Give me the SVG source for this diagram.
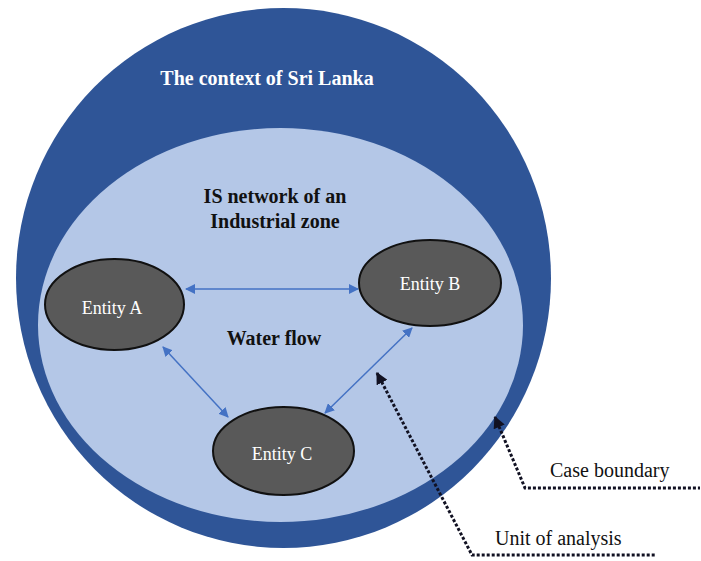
<svg xmlns="http://www.w3.org/2000/svg" width="701" height="561" viewBox="0 0 701 561">
<style>
.bold{font-family:"Liberation Serif","Times New Roman",serif;font-weight:bold;font-size:20px;text-anchor:middle}
.ent{fill:#595959;stroke:#111111;stroke-width:2}
.etxt{font-family:"Liberation Serif","Times New Roman",serif;font-size:18px;fill:#ffffff;text-anchor:middle}
.lbl{font-family:"Liberation Serif","Times New Roman",serif;font-size:20px;fill:#111111}
.flow{stroke:#4472C4;stroke-width:1.5;fill:none;marker-start:url(#bh);marker-end:url(#bh)}
.dot{stroke:#111122;stroke-width:3;fill:none;stroke-dasharray:3 2;marker-start:url(#kh)}
</style>
<defs>
<marker id="bh" viewBox="0 0 10 10" refX="9" refY="5" markerWidth="10" markerHeight="10" markerUnits="userSpaceOnUse" orient="auto-start-reverse">
<path d="M0,0 L10,5 L0,10 z" fill="#4472C4"/>
</marker>
<marker id="kh" viewBox="0 0 10 10" refX="9" refY="5" markerWidth="12" markerHeight="12" markerUnits="userSpaceOnUse" orient="auto-start-reverse">
<path d="M0,0 L10,5 L0,10 z" fill="#111122"/>
</marker>
</defs>
<rect width="701" height="561" fill="#ffffff"/>
<g id="case-boundary">
<ellipse cx="283.5" cy="278" rx="267.5" ry="270" fill="#2F5597"/>
<text class="bold" x="267" y="85" fill="#ffffff">The context of Sri Lanka</text>
</g>
<g id="unit-of-analysis">
<ellipse cx="280.5" cy="325" rx="242.5" ry="197" fill="#B4C7E7"/>
<text class="bold" x="275" y="203" fill="#111111">IS network of an</text>
<text class="bold" x="275" y="228" fill="#111111">Industrial zone</text>
<text class="bold" x="274" y="345" fill="#111111">Water flow</text>
</g>
<g id="connectors">
<path class="flow" d="M186,289 L358,289"/>
<path class="flow" d="M163,347 L228,417"/>
<path class="flow" d="M412,328 L325,413"/>
<path class="dot" d="M377,373 L472,555 L655,555"/>
<path class="dot" d="M495,417 L525,488 L700,488"/>
</g>
<g id="entity-a">
<ellipse class="ent" cx="114.5" cy="304.5" rx="69.5" ry="45.5"/>
<text class="etxt" x="112" y="314">Entity A</text>
</g>
<g id="entity-b">
<ellipse class="ent" cx="430" cy="283" rx="71" ry="43"/>
<text class="etxt" x="430" y="290">Entity B</text>
</g>
<g id="entity-c">
<ellipse class="ent" cx="283.5" cy="451" rx="70.5" ry="44"/>
<text class="etxt" x="282" y="460">Entity C</text>
</g>
<g id="labels">
<text class="lbl" x="550" y="477">Case boundary</text>
<text class="lbl" x="495" y="545">Unit of analysis</text>
</g>
</svg>
